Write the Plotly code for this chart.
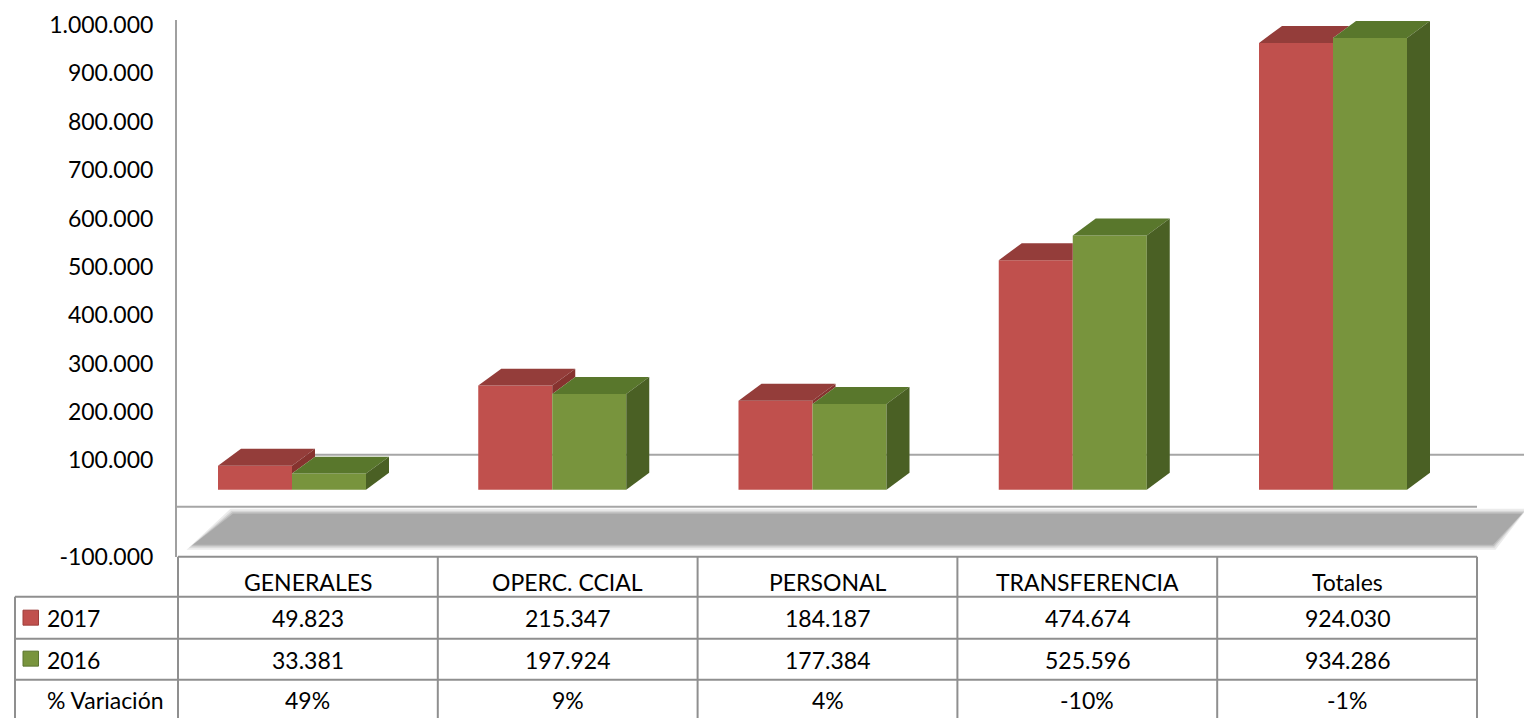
import plotly.graph_objects as go

# ---------------- data ----------------
categories = ["GENERALES", "OPERC. CCIAL", "PERSONAL", "TRANSFERENCIA", "Totales"]
values_2017 = [49823, 215347, 184187, 474674, 924030]
values_2016 = [33381, 197924, 177384, 525596, 934286]
variacion = ["49%", "9%", "4%", "-10%", "-1%"]
series_names = ["2017", "2016"]
row_label_var = "% Variación"
ytick_vals = [1000000, 900000, 800000, 700000, 600000, 500000, 400000, 300000, 200000, 100000, -100000]

# ---------------- styling / geometry ----------------
W, H = 1524, 718
L, R, T, B = 177, 1524, 20, 557.3          # plot-area pixel box
X_PX0, X_PXU = 292.0, 260.25               # pixel of x=0, pixels per category
Y_PX0, Y_PXU = 508.9, 0.0004839            # pixel of y=0, pixels per unit
FONT = "Lato"
FS = 23

RED_FRONT, RED_TOP, RED_SIDE = "#C0504D", "#943D3A", "#86332F"
GRN_FRONT, GRN_TOP, GRN_SIDE = "#78943D", "#59772C", "#4A6024"
GRID = "#A6A6A6"
TABLE_LINE = "#8F8F8F"

BAR_W = 74 / X_PXU
DDX = 23 / X_PXU
DDY = 17 / Y_PXU
BASE = 39000


def xp(px):
    return (px - L) / (R - L)


def yp(py):
    return (B - py) / (B - T)


x_range = [(L - X_PX0) / X_PXU, (R - X_PX0) / X_PXU]
y_range = [(Y_PX0 - B) / Y_PXU, (Y_PX0 - T) / Y_PXU]


def fmt(v):
    s = f"{abs(v):,}".replace(",", ".")
    return ("-" if v < 0 else "") + s


fig = go.Figure()

# front faces as bars
fig.add_trace(go.Bar(
    x=[i - BAR_W / 2 for i in range(len(categories))], y=values_2017, base=BASE,
    width=BAR_W, marker=dict(color=RED_FRONT, line=dict(width=0)), name=series_names[0],
    customdata=categories, hovertemplate="%{customdata}: %{y:,}<extra>2017</extra>", showlegend=False))
fig.add_trace(go.Bar(
    x=[i + BAR_W / 2 for i in range(len(categories))], y=values_2016, base=BASE,
    width=BAR_W, marker=dict(color=GRN_FRONT, line=dict(width=0)), name=series_names[1],
    customdata=categories, hovertemplate="%{customdata}: %{y:,}<extra>2016</extra>", showlegend=False))


def poly(xs, ys, color):
    fig.add_trace(go.Scatter(x=xs + [xs[0]], y=ys + [ys[0]], mode="lines", fill="toself",
                             fillcolor=color, line=dict(width=0, color=color),
                             hoverinfo="skip", showlegend=False))


for i in range(len(categories)):
    rt = BASE + values_2017[i]
    gt = BASE + values_2016[i]
    x0, x1, x2 = i - BAR_W, i, i + BAR_W
    # red top (clipped by the green bar in front)
    g = min(max(gt, rt), rt + DDY)
    xc = x1 + (rt + DDY - g) * DDX / DDY
    poly([x0, x1, x1, xc, x0 + DDX], [rt, rt, g, rt + DDY, rt + DDY], RED_TOP)
    # red side (only the part above the green bar)
    if rt > gt:
        poly([x1, x1, x1 + DDX, x1 + DDX], [gt, rt, rt + DDY, gt + DDY], RED_SIDE)
    # green top and side
    poly([x1, x2, x2 + DDX, x1 + DDX], [gt, gt, gt + DDY, gt + DDY], GRN_TOP)
    poly([x2, x2, x2 + DDX, x2 + DDX], [BASE, gt, gt + DDY, BASE + DDY], GRN_SIDE)

shapes = []
# floor shadow (layered to fake a soft blur)
for grow, col in [(5, "#EBEBEB"), (3, "#D6D6D6"), (1.5, "#BDBDBD"), (0, "#A8A8A8")]:
    shapes.append(dict(type="path", xref="paper", yref="paper", layer="below",
                       path=(f"M{xp(193 - grow * 1.3)},{yp(545 + grow)} L{xp(233 - grow * 0.5)},{yp(514 - grow)} "
                             f"L{xp(1522 + grow)},{yp(514 - grow)} L{xp(1493 + grow * 0.5)},{yp(545 + grow)} Z"),
                       fillcolor=col, line=dict(width=0)))
# back wall line and floor front line
shapes.append(dict(type="line", xref="paper", yref="paper", layer="below",
                   x0=xp(237), x1=xp(1524), y0=yp(455), y1=yp(455), line=dict(color=GRID, width=2)))
shapes.append(dict(type="line", xref="paper", yref="paper", layer="below",
                   x0=xp(177), x1=xp(1477), y0=yp(507), y1=yp(507), line=dict(color=GRID, width=2)))

# data table grid
col_edges = [178 + 259.8 * k for k in range(len(categories) + 1)]
row_lines = [597, 639, 680]
shapes.append(dict(type="line", xref="paper", yref="paper", x0=xp(col_edges[0]), x1=xp(col_edges[-1]),
                   y0=yp(557), y1=yp(557), line=dict(color=TABLE_LINE, width=2)))
for py in row_lines:
    shapes.append(dict(type="line", xref="paper", yref="paper", x0=xp(15), x1=xp(col_edges[-1]),
                       y0=yp(py), y1=yp(py), line=dict(color=TABLE_LINE, width=2)))
for px in col_edges:
    shapes.append(dict(type="line", xref="paper", yref="paper", x0=xp(px), x1=xp(px),
                       y0=yp(557), y1=yp(720), line=dict(color=TABLE_LINE, width=2)))
shapes.append(dict(type="line", xref="paper", yref="paper", x0=xp(15), x1=xp(15),
                   y0=yp(597), y1=yp(720), line=dict(color=TABLE_LINE, width=2)))
# legend keys
for py, c, c2 in [(618, RED_FRONT, "#9E3E3B"), (659, GRN_FRONT, "#5B7530")]:
    shapes.append(dict(type="rect", xref="paper", yref="paper", x0=xp(23), x1=xp(38.5),
                       y0=yp(py - 7.5), y1=yp(py + 7.5), fillcolor=c, line=dict(color=c2, width=1)))

annotations = []
row_centers = [582, 618, 660, 700]
for k, cat in enumerate(categories):
    cx = (col_edges[k] + col_edges[k + 1]) / 2
    for txt, py in [(cat, row_centers[0]), (fmt(values_2017[k]), row_centers[1]),
                    (fmt(values_2016[k]), row_centers[2]), (variacion[k], row_centers[3])]:
        annotations.append(dict(xref="paper", yref="paper", x=xp(cx), y=yp(py), text=txt,
                                showarrow=False, xanchor="center", yanchor="middle",
                                font=dict(family=FONT, size=FS, color="#000000")))
for txt, py in [(series_names[0], row_centers[1]), (series_names[1], row_centers[2]),
                (row_label_var, row_centers[3])]:
    annotations.append(dict(xref="paper", yref="paper", x=xp(45), y=yp(py), text=txt,
                            showarrow=False, xanchor="left", yanchor="middle",
                            font=dict(family=FONT, size=FS, color="#000000")))

fig.update_layout(
    width=W, height=H,
    margin=dict(l=L, r=W - R, t=T, b=H - B, pad=0),
    paper_bgcolor="white", plot_bgcolor="white",
    barmode="overlay", showlegend=False,
    shapes=shapes, annotations=annotations,
    xaxis=dict(range=x_range, showgrid=False, zeroline=False, showticklabels=False,
               showline=False, fixedrange=True),
    yaxis=dict(range=y_range, showgrid=False, zeroline=False, tickmode="array",
               tickvals=ytick_vals, ticktext=[fmt(v) for v in ytick_vals],
               tickfont=dict(family=FONT, size=FS, color="#000000"),
               ticks="", ticklabelstandoff=17,
               showline=True, linecolor="#A0A0A0", linewidth=2, fixedrange=True),
    font=dict(family=FONT),
)

fig.write_html("out.html", config={"displayModeBar": False},
               post_script="document.body.style.margin='0px';document.body.style.overflow='hidden';")
